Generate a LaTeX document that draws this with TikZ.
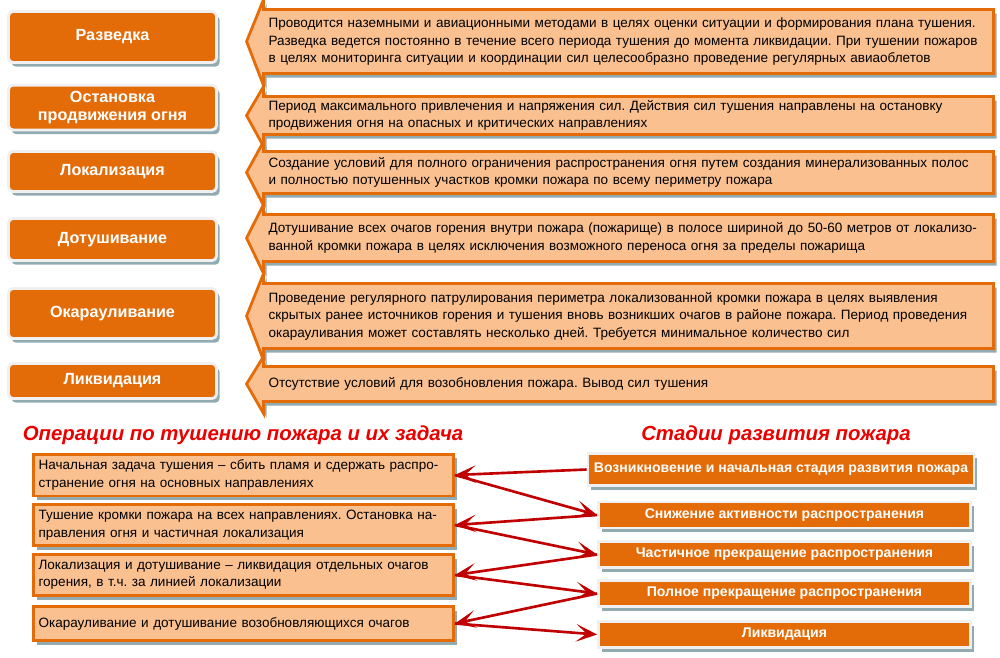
\documentclass[tikz,border=0pt]{standalone}
\usepackage{fontspec}
\setmainfont{Liberation Sans}
\usepackage{tikz}
\usetikzlibrary{calc,arrows.meta,positioning,shadows,backgrounds}
\definecolor{fire}{HTML}{E36C09}
\definecolor{peach}{HTML}{FAC090}
\definecolor{shade}{RGB}{146,170,178}
\definecolor{rim}{RGB}{240,240,240}
\definecolor{ttlred}{RGB}{235,0,0}
\definecolor{linkred}{RGB}{192,0,0}
\frenchspacing

\begin{document}
\begin{tikzpicture}[x=0.02cm,y=-0.02cm,
    boxshadow/.style={drop shadow={shadow xshift=1.8pt,shadow yshift=-2.4pt,fill=shade,opacity=1}},
    phase/.style={fill=fire,draw=rim,line width=1.6pt,rounded corners=2.5pt,minimum width=4.16cm,text=white,
      font=\fontsize{9.2}{10.5}\selectfont\bfseries,align=center,boxshadow},
    note/.style={minimum width=14.6cm,text width=14.4cm,inner xsep=0.1cm,inner ysep=0pt,outer sep=0pt,align=left,
      font=\fontsize{7.7}{9.9}\selectfont},
    noteshape/.style={fill=peach,draw=fire,line width=1.6pt,boxshadow},
    task/.style={fill=peach,draw=fire,line width=1.6pt,minimum width=8.4cm,text width=8.2cm,inner xsep=0.1cm,
      align=left,font=\fontsize{7.7}{9.9}\selectfont,boxshadow},
    stage/.style={fill=fire,draw=rim,line width=1.6pt,minimum width=7.44cm,minimum height=0.52cm,text=white,
      font=\fontsize{8}{9}\selectfont\bfseries,boxshadow},
    ttl/.style={text=ttlred,font=\fontsize{11.6}{13}\selectfont\bfseries\itshape},
    link/.style={linkred,line width=1.5pt,-{Stealth[length=12pt,width=10pt,inset=6pt]}}]
    \useasboundingbox (0,0) rectangle (1000,657);
    % phases of extinguishing
    \node[phase,minimum height=1.02cm] (p1) at (112.5,37){Разведка};
    \node[phase,minimum height=0.84cm] (p2) at (112.5,107.5){Остановка\\продвижения огня};
    \node[phase,minimum height=0.8cm] (p3) at (112.5,171.5){Локализация};
    \node[phase,minimum height=0.84cm] (p4) at (112.5,239.5){Дотушивание};
    \node[phase,minimum height=1.0cm] (p5) at (112.5,313.5){Окарауливание};
    \node[phase,minimum height=0.7cm] (p6) at (112.5,381){Ликвидация};
    \node[note,minimum height=1.28cm] (n1) at (628.5,41.5){Проводится наземными и авиационными методами в целях оценки ситуации и формирования плана тушения.\\
      Разведка ведется постоянно в течение всего периода тушения до момента ликвидации. При тушении пожаров\\
      в целях мониторинга ситуации и координации сил целесообразно проведение регулярных авиаоблетов};
    \node[note,minimum height=0.76cm] (n2) at (628.5,115.5){Период максимального привлечения и напряжения сил. Действия сил тушения направлены на остановку\\
      продвижения огня на опасных и критических направлениях};
    \node[note,minimum height=0.84cm] (n3) at (628.5,172.5){Создание условий для полного ограничения распространения огня путем создания минерализованных полос\\
      и полностью потушенных участков кромки пожара по всему периметру пожара};
    \node[note,minimum height=0.94cm] (n4) at (628.5,238){Дотушивание всех очагов горения внутри пожара (пожарище) в полосе шириной до 50-60 метров от локализо-\\
      ванной кромки пожара в целях исключения возможного переноса огня за пределы пожарища};
    \node[note,minimum height=1.3cm] (n5) at (628.5,316){Проведение регулярного патрулирования периметра локализованной кромки пожара в целях выявления\\
      скрытых ранее источников горения и тушения вновь возникших очагов в районе пожара. Период проведения\\
      окарауливания может составлять несколько дней. Требуется минимальное количество сил};
    \node[note,minimum height=0.7cm] (n6) at (628.5,384){Отсутствие условий для возобновления пожара. Вывод сил тушения};
    \begin{scope}[on background layer]
      \foreach \i in {1,...,6}{
        \filldraw[noteshape] (n\i.north east) -- (n\i.north west) -- ($(n\i.north west)+(0,-10)$)
          -- ($(n\i.west)+(-17,0)$) -- ($(n\i.south west)+(0,12)$) -- (n\i.south west) -- (n\i.south east) -- cycle;
      }
    \end{scope}
    % operations and stages
    \node[ttl] (tops) at (243,435){Операции по тушению пожара и их задача};
    \node[ttl] (tstg) at (776,435){Стадии развития пожара};
    \node[task,minimum height=0.74cm] (o1) at (243.5,475){Начальная задача тушения -- сбить пламя и сдержать распро-\\странение огня на основных направлениях};
    \node[task,minimum height=0.74cm] (o2) at (243.5,525){Тушение кромки пожара на всех направлениях. Остановка на-\\правления огня и частичная локализация};
    \node[task,minimum height=0.74cm] (o3) at (243.5,575){Локализация и дотушивание -- ликвидация отдельных очагов\\горения, в т.ч. за линией локализации};
    \node[task,minimum height=0.68cm] (o4) at (243.5,623.5){Окарауливание и дотушивание возобновляющихся очагов};
    \node[stage,minimum width=7.5cm,minimum height=0.64cm] (s1) at (781,469.5){Возникновение и начальная стадия развития пожара};
    \node[stage] (s2) at (784.5,515){Снижение активности распространения};
    \node[stage] (s3) at (784.5,554.5){Частичное прекращение распространения};
    \node[stage] (s4) at (784.5,593.5){Полное прекращение распространения};
    \node[stage] (s5) at (784.5,634.5){Ликвидация};
    \draw[link] (s1.west) -- (o1.east);
    \draw[link] (o1.east) -- (s2.west);
    \draw[link] (s2.west) -- (o2.east);
    \draw[link] (o2.east) -- (s3.west);
    \draw[link] (s3.west) -- (o3.east);
    \draw[link] (o3.east) -- (s4.west);
    \draw[link] (s4.west) -- (o4.east);
    \draw[link] (o4.east) -- (s5.west);
\end{tikzpicture}
\end{document}
